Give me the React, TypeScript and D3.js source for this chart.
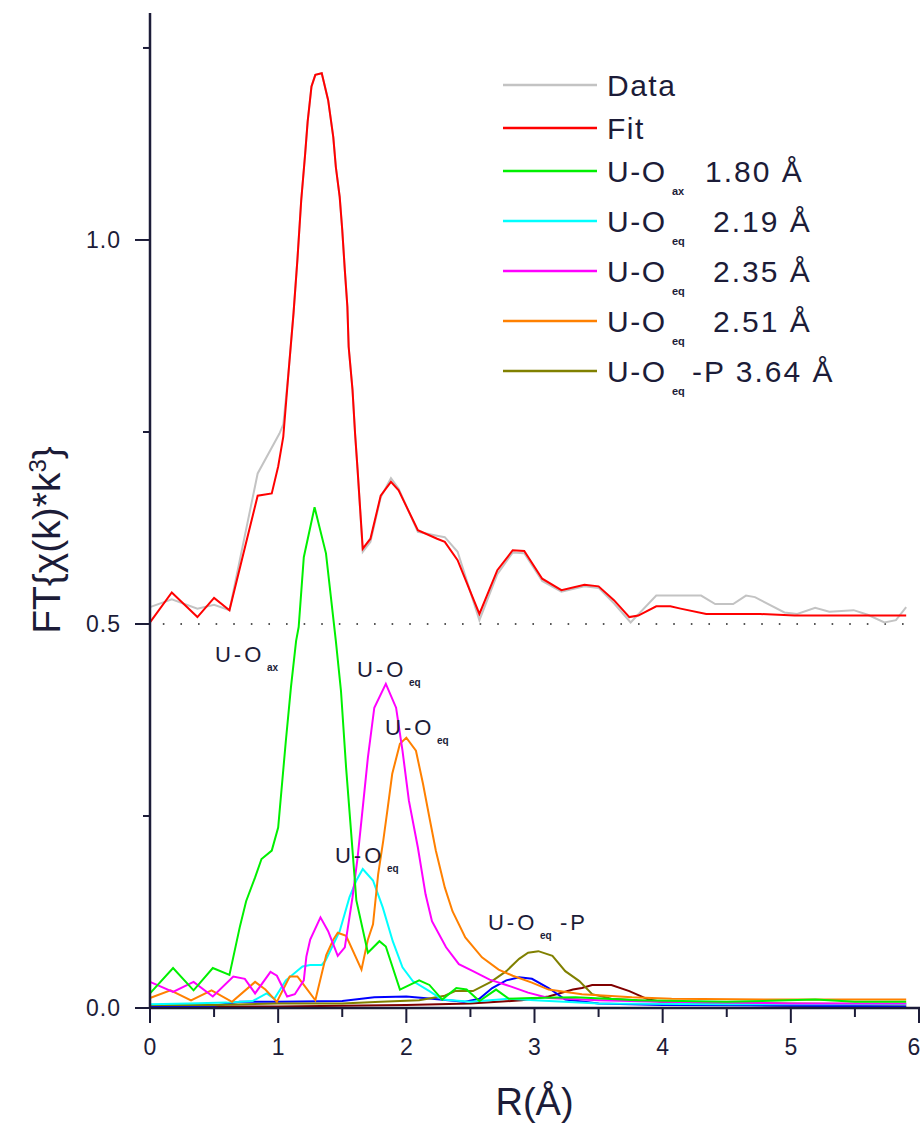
import React from "react";
import * as d3 from "d3";

// ---------- data (R in Å, FT magnitude) ----------
const R_DATA = [0, 0.17, 0.37, 0.5, 0.62, 0.84, 1.01, 1.04, 1.08, 1.12, 1.15, 1.18, 1.21, 1.23, 1.26, 1.29, 1.34, 1.39, 1.43, 1.45, 1.48, 1.5, 1.52, 1.54, 1.55, 1.58, 1.6, 1.62, 1.66, 1.72, 1.8, 1.88, 1.94, 2.09, 2.24, 2.3, 2.4, 2.57, 2.71, 2.83, 2.92, 3.06, 3.21, 3.39, 3.5, 3.62, 3.75, 3.95, 4.3, 4.41, 4.55, 4.65, 4.72, 4.95, 5.05, 5.19, 5.3, 5.49, 5.6, 5.73, 5.82, 5.9];
const V_DATA = [0.522, 0.532, 0.52, 0.525, 0.518, 0.696, 0.748, 0.76, 0.826, 0.905, 0.974, 1.052, 1.111, 1.154, 1.2, 1.215, 1.217, 1.182, 1.134, 1.095, 1.056, 1.013, 0.961, 0.913, 0.861, 0.805, 0.748, 0.7, 0.594, 0.607, 0.665, 0.69, 0.676, 0.62, 0.615, 0.613, 0.594, 0.505, 0.565, 0.593, 0.592, 0.556, 0.542, 0.549, 0.547, 0.527, 0.502, 0.537, 0.537, 0.526, 0.526, 0.537, 0.535, 0.515, 0.513, 0.521, 0.516, 0.518, 0.512, 0.502, 0.505, 0.522];

const R_FIT = [0, 0.17, 0.37, 0.5, 0.62, 0.84, 0.95, 1.0, 1.04, 1.08, 1.12, 1.15, 1.18, 1.21, 1.23, 1.26, 1.29, 1.34, 1.39, 1.43, 1.45, 1.48, 1.5, 1.52, 1.54, 1.55, 1.58, 1.6, 1.62, 1.66, 1.72, 1.8, 1.88, 1.94, 2.09, 2.24, 2.3, 2.4, 2.57, 2.71, 2.83, 2.92, 3.06, 3.21, 3.39, 3.5, 3.62, 3.74, 3.81, 3.95, 4.06, 4.14, 4.34, 4.76, 5.03, 5.5, 5.9];
const V_FIT = [0.502, 0.541, 0.509, 0.534, 0.518, 0.667, 0.67, 0.705, 0.744, 0.826, 0.905, 0.974, 1.052, 1.111, 1.154, 1.2, 1.215, 1.217, 1.182, 1.134, 1.095, 1.056, 1.013, 0.961, 0.913, 0.861, 0.805, 0.748, 0.7, 0.598, 0.611, 0.667, 0.685, 0.674, 0.622, 0.611, 0.607, 0.583, 0.513, 0.57, 0.596, 0.595, 0.559, 0.544, 0.551, 0.549, 0.531, 0.509, 0.511, 0.523, 0.523, 0.52, 0.513, 0.513, 0.511, 0.511, 0.511];

const R_AX = [0, 0.18, 0.34, 0.49, 0.62, 0.7, 0.75, 0.82, 0.87, 0.95, 1.0, 1.06, 1.1, 1.14, 1.16, 1.2, 1.284, 1.373, 1.45, 1.49, 1.53, 1.57, 1.61, 1.7, 1.79, 1.84, 1.95, 2.1, 2.18, 2.28, 2.39, 2.47, 2.57, 2.7, 2.8, 2.98, 3.32, 3.8, 4.5, 5.19, 5.5, 5.9];
const V_AX = [0.019, 0.052, 0.023, 0.052, 0.043, 0.105, 0.139, 0.17, 0.194, 0.205, 0.235, 0.348, 0.418, 0.478, 0.496, 0.587, 0.652, 0.592, 0.478, 0.413, 0.313, 0.227, 0.14, 0.072, 0.087, 0.08, 0.024, 0.036, 0.03, 0.011, 0.026, 0.024, 0.009, 0.024, 0.012, 0.013, 0.014, 0.01, 0.008, 0.011, 0.008, 0.008];

const R_EQ1 = [0, 0.3, 0.6, 0.8, 0.91, 0.97, 1.06, 1.19, 1.25, 1.34, 1.37, 1.48, 1.556, 1.61, 1.66, 1.74, 1.816, 1.894, 1.97, 2.05, 2.18, 2.28, 2.5, 2.8, 3.0, 3.5, 4.5, 5.9];
const V_EQ1 = [0.005, 0.006, 0.007, 0.009, 0.019, 0.012, 0.036, 0.054, 0.056, 0.056, 0.062, 0.1, 0.144, 0.166, 0.181, 0.166, 0.131, 0.087, 0.053, 0.035, 0.022, 0.011, 0.008, 0.012, 0.01, 0.006, 0.005, 0.005];

const R_EQ2 = [0, 0.18, 0.34, 0.49, 0.65, 0.74, 0.82, 0.94, 0.99, 1.07, 1.13, 1.2, 1.22, 1.25, 1.33, 1.39, 1.465, 1.52, 1.58, 1.62, 1.66, 1.7, 1.75, 1.84, 1.92, 1.97, 2.02, 2.09, 2.15, 2.2, 2.31, 2.41, 2.52, 2.65, 2.78, 2.95, 3.11, 3.5, 4.0, 5.0, 5.9];
const V_EQ2 = [0.034, 0.021, 0.034, 0.015, 0.041, 0.038, 0.019, 0.047, 0.042, 0.015, 0.018, 0.036, 0.067, 0.089, 0.118, 0.1, 0.068, 0.079, 0.144, 0.196, 0.261, 0.326, 0.391, 0.422, 0.391, 0.335, 0.27, 0.209, 0.148, 0.113, 0.079, 0.057, 0.048, 0.037, 0.03, 0.02, 0.013, 0.01, 0.008, 0.006, 0.006];

const R_EQ3 = [0, 0.16, 0.32, 0.48, 0.64, 0.82, 0.9, 0.99, 1.09, 1.15, 1.2, 1.29, 1.375, 1.43, 1.465, 1.53, 1.65, 1.7, 1.74, 1.78, 1.82, 1.855, 1.89, 1.95, 2.0, 2.075, 2.13, 2.18, 2.23, 2.3, 2.36, 2.46, 2.59, 2.72, 2.83, 2.98, 3.11, 3.37, 3.76, 4.07, 4.98, 5.9];
const V_EQ3 = [0.013, 0.023, 0.01, 0.023, 0.008, 0.034, 0.024, 0.008, 0.041, 0.041, 0.03, 0.01, 0.069, 0.089, 0.098, 0.094, 0.05, 0.089, 0.109, 0.174, 0.218, 0.261, 0.305, 0.344, 0.352, 0.335, 0.292, 0.248, 0.205, 0.157, 0.126, 0.092, 0.066, 0.05, 0.042, 0.033, 0.024, 0.018, 0.014, 0.012, 0.011, 0.011];

const R_P = [0, 0.5, 1.0, 1.5, 1.8, 2.1, 2.3, 2.38, 2.52, 2.66, 2.78, 2.88, 2.95, 3.03, 3.14, 3.24, 3.35, 3.45, 3.6, 4.0, 5.0, 5.9];
const V_P = [0.004, 0.004, 0.006, 0.006, 0.008, 0.01, 0.016, 0.022, 0.022, 0.034, 0.048, 0.064, 0.072, 0.074, 0.068, 0.048, 0.035, 0.018, 0.012, 0.008, 0.006, 0.005];

const R_BLUE = [0, 0.5, 0.7, 1.0, 1.5, 1.75, 2.0, 2.2, 2.45, 2.57, 2.67, 2.78, 2.88, 2.98, 3.11, 3.24, 3.5, 4.0, 5.0, 5.9];
const V_BLUE = [0.002, 0.003, 0.008, 0.008, 0.009, 0.014, 0.015, 0.012, 0.008, 0.012, 0.026, 0.036, 0.04, 0.038, 0.026, 0.011, 0.006, 0.004, 0.003, 0.002];

const R_MAROON = [0, 1.0, 2.0, 2.5, 2.9, 3.11, 3.3, 3.37, 3.45, 3.6, 3.74, 3.89, 4.07, 5.0, 5.9];
const V_MAROON = [0.002, 0.002, 0.004, 0.006, 0.01, 0.015, 0.024, 0.026, 0.03, 0.03, 0.022, 0.011, 0.006, 0.003, 0.002];

const X_TICKS = [0, 1, 2, 3, 4, 5, 6];
const X_MINOR = [0.5, 1.5, 2.5, 3.5, 4.5, 5.5];
const Y_TICKS = [0.0, 0.5, 1.0];
const Y_MINOR = [0.25, 0.75, 1.25];
const BASELINE = 0.5;

const LEGEND_MAIN = ["Data", "Fit", "U-O", "U-O", "U-O", "U-O", "U-O"];
const LEGEND_SUB = ["", "", "ax", "eq", "eq", "eq", "eq"];
const LEGEND_VALUE = ["", "", "1.80 Å", "2.19 Å", "2.35 Å", "2.51 Å", "-P 3.64 Å"];

const ANN_R = [0.507, 1.615, 1.834, 1.443, 2.637];
const ANN_V = [0.4505, 0.431, 0.3555, 0.189, 0.1016];
const ANN_SUB = ["ax", "eq", "eq", "eq", "eq"];
const ANN_SUFFIX = ["", "", "", "", "-P"];

const COLORS = {
  data: "#c3c3c3",
  fit: "#ff0000",
  ax: "#00f000",
  eq1: "#00ffff",
  eq2: "#ff00ff",
  eq3: "#ff8000",
  p: "#808000",
  blue: "#0000ff",
  maroon: "#800000",
};
const INK = "#1c1c38";
const FONT = "'Liberation Sans', Arial, sans-serif";

const zip = (r: number[], v: number[]) => r.map((x, i) => [x, v[i]] as [number, number]);

export default function App() {
  const W = 923, H = 1126;
  const x = d3.scaleLinear().domain([0, 6]).range([150, 919]);
  const y = d3.scaleLinear().domain([0, 1.295]).range([1008, 13.4]);
  const line = d3.line<[number, number]>().x(d => x(d[0])).y(d => y(d[1]));

  const series = [
    { d: zip(R_MAROON, V_MAROON), c: COLORS.maroon },
    { d: zip(R_BLUE, V_BLUE), c: COLORS.blue },
    { d: zip(R_P, V_P), c: COLORS.p },
    { d: zip(R_EQ1, V_EQ1), c: COLORS.eq1 },
    { d: zip(R_EQ3, V_EQ3), c: COLORS.eq3 },
    { d: zip(R_EQ2, V_EQ2), c: COLORS.eq2 },
    { d: zip(R_AX, V_AX), c: COLORS.ax },
    { d: zip(R_DATA, V_DATA), c: COLORS.data },
    { d: zip(R_FIT, V_FIT), c: COLORS.fit },
  ];
  const legendColors = [COLORS.data, COLORS.fit, COLORS.ax, COLORS.eq1, COLORS.eq2, COLORS.eq3, COLORS.p];
  const rowY = (i: number) => (i < 3 ? 85 + 43 * i : 171 + 50 * (i - 2));

  return (
    <svg width={W} height={H} style={{ position: "absolute", left: 0, top: 0, background: "#fff" }} fontFamily={FONT}>
      <rect width={W} height={H} fill="#fff" />
      {/* baseline dotted line */}
      <line x1={x(0.1)} x2={x(6)} y1={y(BASELINE)} y2={y(BASELINE)} stroke="#555" strokeWidth={2} strokeDasharray="1.6 16" />
      {series.map((s, i) => (
        <path key={i} d={line(s.d) || ""} fill="none" stroke={s.c} strokeWidth={2} strokeLinejoin="miter" />
      ))}
      {/* axes */}
      <line x1={x(0)} x2={x(0)} y1={y(0) + 1} y2={13} stroke={INK} strokeWidth={2.5} />
      <line x1={x(0) - 1} x2={920} y1={y(0)} y2={y(0)} stroke={INK} strokeWidth={2.5} />
      {X_TICKS.map(t => (
        <g key={"xt" + t}>
          <line x1={x(t)} x2={x(t)} y1={y(0)} y2={y(0) + 15} stroke={INK} strokeWidth={2} />
          <text x={Math.min(x(t), 914)} y={1055} textAnchor="middle" fontSize={23} fill={INK}>{t}</text>
        </g>
      ))}
      {X_MINOR.map(t => (
        <line key={"xm" + t} x1={x(t)} x2={x(t)} y1={y(0)} y2={y(0) + 9} stroke={INK} strokeWidth={2} />
      ))}
      {Y_TICKS.map(t => (
        <g key={"yt" + t}>
          <line x1={x(0) - 15} x2={x(0)} y1={y(t)} y2={y(t)} stroke={INK} strokeWidth={2} />
          <text x={121} y={y(t) + 8} textAnchor="end" fontSize={23} letterSpacing={1} fill={INK}>{t.toFixed(1)}</text>
        </g>
      ))}
      {Y_MINOR.map(t => (
        <line key={"ym" + t} x1={x(0) - 7} x2={x(0)} y1={y(t)} y2={y(t)} stroke={INK} strokeWidth={2} />
      ))}
      {/* axis titles */}
      <text x={x(3)} y={1115} textAnchor="middle" fontSize={38} fill={INK}>R(Å)</text>
      <text transform="translate(60,540) rotate(-90)" textAnchor="middle" fontSize={39} fill={INK}>
        FT{"{"}χ(k)*k<tspan fontSize={24} dy={-14}>3</tspan><tspan dy={14}>{"}"}</tspan>
      </text>
      {/* legend */}
      {LEGEND_MAIN.map((m, i) => (
        <g key={"lg" + i}>
          <line x1={503} x2={597} y1={rowY(i)} y2={rowY(i)} stroke={legendColors[i]} strokeWidth={2.5} />
          <text x={607} y={rowY(i) + 11} fontSize={30} letterSpacing={1.5} fill={INK}>{m}</text>
          {LEGEND_SUB[i] && (
            <text x={672} y={rowY(i) + 24} fontSize={11} fontWeight="bold" fill={INK}>{LEGEND_SUB[i]}</text>
          )}
          {LEGEND_VALUE[i] && (
            <text x={i === 2 ? 705 : i === 6 ? 692 : 713} y={rowY(i) + 11} fontSize={30} letterSpacing={2} fill={INK}>{LEGEND_VALUE[i]}</text>
          )}
        </g>
      ))}
      {/* peak annotations */}
      {ANN_R.map((r, i) => (
        <g key={"an" + i}>
          <text x={x(r)} y={y(ANN_V[i])} fontSize={22} letterSpacing={3} fill={INK}>U-O</text>
          <text x={x(r) + 52} y={y(ANN_V[i]) + 9} fontSize={10} fontWeight="bold" fill={INK}>{ANN_SUB[i]}</text>
          {ANN_SUFFIX[i] && (
            <text x={x(r) + 72} y={y(ANN_V[i])} fontSize={22} letterSpacing={3} fill={INK}>{ANN_SUFFIX[i]}</text>
          )}
        </g>
      ))}
    </svg>
  );
}
